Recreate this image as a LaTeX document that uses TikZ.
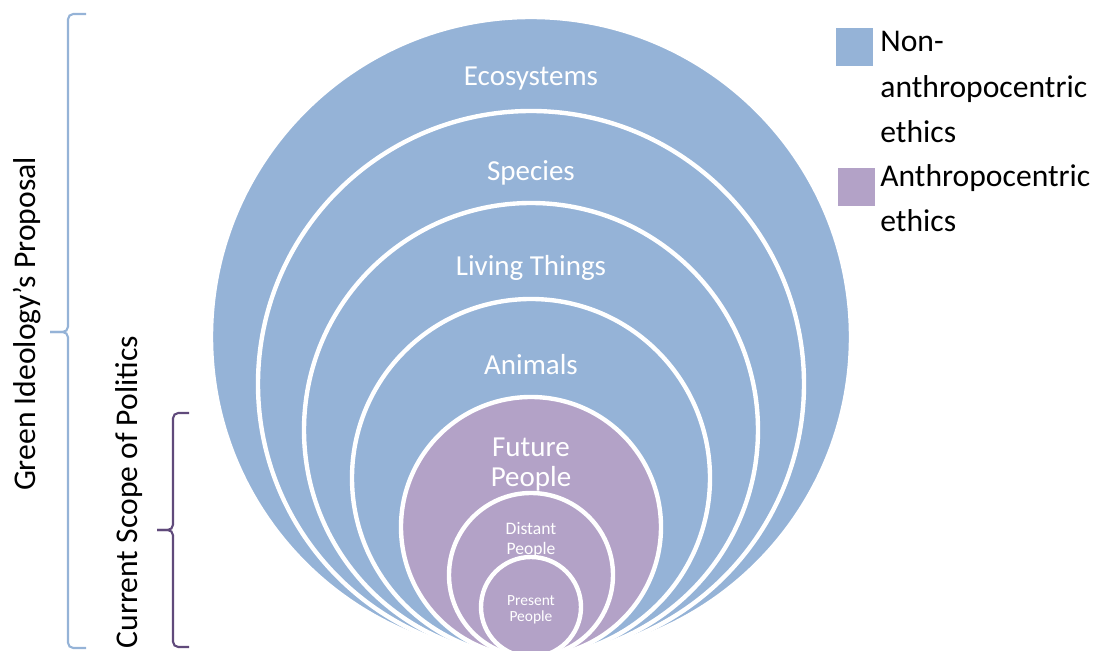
\documentclass[tikz,border=0pt]{standalone}
\usepackage{fontspec}
\setmainfont{Carlito}
\usepackage{tikz}
\usetikzlibrary{positioning}

\definecolor{nonanthro}{HTML}{95B3D7}
\definecolor{anthro}{HTML}{B3A2C7}
\definecolor{scopepurple}{HTML}{604A7B}

\tikzset{
    ring/.style={draw=white, line width=2.5pt},
    bigtext/.style={text=white, align=center, inner sep=0pt, anchor=base, font=\fontsize{16.5}{17.6}\selectfont},
    midtext/.style={text=white, align=center, inner sep=0pt, anchor=base, font=\fontsize{10}{11.9}\selectfont},
    smalltext/.style={text=white, align=center, inner sep=0pt, anchor=base, font=\fontsize{8.8}{9.6}\selectfont},
    sidetext/.style={rotate=90, inner sep=0pt, anchor=base, font=\fontsize{18}{20}\selectfont},
    keybox/.style={minimum width=0.74cm, minimum height=0.76cm, inner sep=0pt},
    keytext/.style={align=left, inner sep=0pt, anchor=base west, font=\fontsize{18}{26}\selectfont},
    bracestroke/.style={line width=1.2pt, rounded corners=3pt}
}

\begin{document}
\begin{tikzpicture}[x=0.02cm, y=-0.02cm]
    \useasboundingbox (0,0) rectangle (1100,651);
    \clip (0,0) rectangle (1100,651);

    % nested circles, all touching at the bottom
    \filldraw[ring, fill=nonanthro] (531,337) circle (320);
    \filldraw[ring, fill=nonanthro] (531,384) circle (273);
    \filldraw[ring, fill=nonanthro] (531,430) circle (227);
    \filldraw[ring, fill=nonanthro] (531,478) circle (179);
    \filldraw[ring, fill=anthro] (531,527) circle (130);
    \filldraw[ring, fill=anthro] (531,575) circle (82);
    \filldraw[ring, fill=anthro] (531,607) circle (50);

    % labels sit on the baseline of their last line
    \node[bigtext] (eco) at (531,86) {Ecosystems};
    \node[bigtext] (species) at (531,181) {Species};
    \node[bigtext] (living) at (531,276) {Living Things};
    \node[bigtext] (animals) at (531,375) {Animals};
    \node[bigtext] (future) at (531,487) {Future\\People};
    \node[midtext] (distant) at (531,555) {Distant\\People};
    \node[smalltext] (present) at (531,622) {Present\\People};

    % braces on the left
    \draw[bracestroke, nonanthro] (86,14) -| (68,332) -- (50,332);
    \draw[bracestroke, nonanthro] (86,648) -| (68,332) -- (50,332);
    \draw[bracestroke, scopepurple] (189,413) -| (173,530) -- (157,530);
    \draw[bracestroke, scopepurple] (189,647) -| (173,530) -- (157,530);

    \node[sidetext] (green) at (35,324) {Green Ideology’s Proposal};
    \node[sidetext] (scope) at (137,492) {Current Scope of Politics};

    % legend
    \node[keybox, fill=nonanthro] (nonkey) at (854.5,47) {};
    \node[keybox, fill=anthro] (anthrokey) at (856.5,187.5) {};
    \node[keytext] (nonlabel) at (880,143) {Non-\\anthropocentric\\ethics};
    \node[keytext] (anthrolabel) at (880,232) {Anthropocentric\\ethics};
\end{tikzpicture}
\end{document}
